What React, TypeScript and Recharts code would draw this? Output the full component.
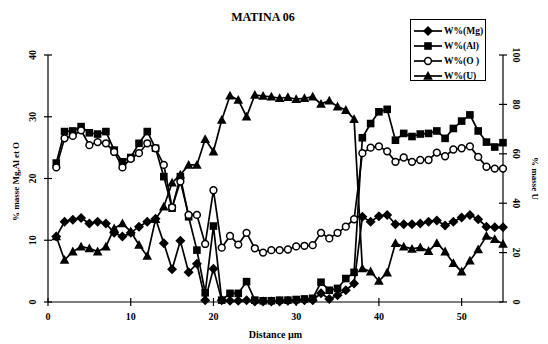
import React from 'react';
import { LineChart, Line, XAxis, YAxis, Legend } from 'recharts';

// distance along the profile (µm)
const distance = [
  1, 2, 3, 4, 5, 6, 7, 8, 9, 10, 11, 12, 13, 14, 15, 16, 17, 18, 19, 20,
  21, 22, 23, 24, 25, 26, 27, 28, 29, 30, 31, 32, 33, 34, 35, 36, 37, 38, 39, 40,
  41, 42, 43, 44, 45, 46, 47, 48, 49, 50, 51, 52, 53, 54, 55,
];

// weight % on the left axis
const mgValues = [
  10.6, 13.0, 13.3, 13.6, 12.7, 13.0, 12.7, 11.2, 10.6, 11.2, 12.2, 13.0, 13.5, 9.5, 5.3, 9.9, 4.8, 6.2, 0.3, 5.4,
  0.3, 0.2, 0.2, 0.3, 0.1, 0.1, 0.1, 0.1, 0.2, 0.2, 0.3, 0.3, 1.4, 0.5, 1.1, 1.9, 3.0, 13.8, 13.0, 13.9,
  14.1, 12.6, 12.6, 12.6, 12.7, 13.0, 13.2, 12.4, 13.0, 13.7, 14.1, 13.4, 12.2, 12.1, 12.1,
];
const alValues = [
  22.5, 27.6, 27.7, 28.4, 27.4, 27.2, 27.6, 24.6, 22.7, 23.4, 25.7, 27.6, 24.9, 20.3, 15.2, 20.3, 13.8, 8.4, 1.5, 12.3,
  0.3, 1.4, 1.4, 3.3, 0.3, 0.2, 0.2, 0.3, 0.3, 0.4, 0.5, 0.6, 3.2, 1.9, 2.2, 3.8, 4.8, 26.6, 28.9, 30.8,
  31.2, 26.2, 27.3, 26.8, 27.2, 27.3, 27.7, 26.5, 28.1, 29.3, 30.3, 27.7, 25.9, 25.1, 25.8,
];
const oValues = [
  21.8, 26.5, 26.9, 27.8, 25.4, 25.9, 25.7, 24.3, 21.8, 23.2, 24.1, 25.7, 24.9, 22.2, 15.3, 19.5, 14.1, 14.1, 9.4, 18.1,
  8.8, 10.7, 9.3, 11.2, 8.7, 8.0, 8.4, 8.4, 8.5, 9.0, 9.1, 9.2, 11.2, 10.3, 11.2, 12.2, 13.4, 24.1, 25.0, 25.2,
  24.4, 22.7, 23.4, 22.7, 23.0, 23.0, 24.2, 23.6, 24.7, 24.9, 25.2, 23.5, 21.9, 21.6, 21.6,
];

// weight % on the right axis
const uValues = [
  26.5, 17.0, 20.4, 22.4, 21.7, 20.4, 22.4, 29.8, 31.8, 28.5, 23.1, 18.6, 33.5, 38.6, 48.3, 51.5, 55.5, 55.5, 65.9, 60.9,
  73.7, 83.5, 81.8, 75.0, 83.8, 83.4, 83.1, 82.5, 82.9, 82.1, 82.5, 83.1, 80.2, 81.5, 79.1, 77.7, 74.0, 13.6, 12.3, 8.5,
  11.9, 23.8, 22.4, 21.5, 22.1, 20.6, 23.8, 20.4, 15.7, 12.3, 16.7, 21.3, 26.7, 25.4, 23.5,
];

const xTicks = [0, 10, 20, 30, 40, 50];
const leftTicks = [0, 10, 20, 30, 40];
const rightTicks = [0, 20, 40, 60, 80, 100];

const data = distance.map((d, i) => ({
  distance: d,
  mg: mgValues[i],
  al: alValues[i],
  o: oValues[i],
  u: uValues[i],
}));

const FONT = '"Liberation Serif", "Times New Roman", serif';

type MarkerKind = 'diamond' | 'square' | 'circle' | 'triangle';

const series: { key: string; name: string; kind: MarkerKind; axis: string }[] = [
  { key: 'mg', name: 'W%(Mg)', kind: 'diamond', axis: 'left' },
  { key: 'al', name: 'W%(Al)', kind: 'square', axis: 'left' },
  { key: 'o', name: 'W%(O )', kind: 'circle', axis: 'left' },
  { key: 'u', name: 'W%(U)', kind: 'triangle', axis: 'right' },
];

const Marker = ({ kind, cx, cy }: { kind: MarkerKind; cx: number; cy: number }) => {
  switch (kind) {
    case 'diamond':
      return <polygon points={`${cx},${cy - 5} ${cx + 5},${cy} ${cx},${cy + 5} ${cx - 5},${cy}`} fill="#000" />;
    case 'square':
      return <rect x={cx - 3.8} y={cy - 3.8} width={7.6} height={7.6} fill="#000" />;
    case 'circle':
      return <circle cx={cx} cy={cy} r={3.4} fill="#fff" stroke="#000" strokeWidth={1.5} />;
    default:
      return <polygon points={`${cx},${cy - 5} ${cx + 4.8},${cy + 3.8} ${cx - 4.8},${cy + 3.8}`} fill="#000" />;
  }
};

const makeDot = (kind: MarkerKind) => (props: any) => {
  const { cx, cy, index } = props;
  if (cx == null || cy == null) return <g key={index} />;
  return <Marker key={index} kind={kind} cx={cx} cy={cy} />;
};

const tickText = { fontFamily: FONT, fontSize: 10, fontWeight: 700, fill: '#000' };

const XTick = ({ x, y, payload }: any) => (
  <g>
    <line x1={x} x2={x} y1={y - 4} y2={y + 4} stroke="#000" strokeWidth={1.2} />
    <text x={x} y={y + 18} textAnchor="middle" {...tickText}>{payload.value}</text>
  </g>
);

const LeftTick = ({ x, y, payload }: any) => (
  <g>
    <line x1={x - 4} x2={x + 4} y1={y} y2={y} stroke="#000" strokeWidth={1.2} />
    <text
      x={x - 16}
      y={y}
      textAnchor="middle"
      dominantBaseline="central"
      transform={`rotate(-90, ${x - 16}, ${y})`}
      {...tickText}
    >
      {payload.value}
    </text>
  </g>
);

const RightTick = ({ x, y, payload }: any) => (
  <g>
    <line x1={x - 4} x2={x + 4} y1={y} y2={y} stroke="#000" strokeWidth={1.2} />
    <text
      x={x + 13}
      y={y}
      textAnchor="middle"
      dominantBaseline="central"
      transform={`rotate(90, ${x + 13}, ${y})`}
      {...tickText}
    >
      {payload.value}
    </text>
  </g>
);

const titleText = { fontFamily: FONT, fontSize: 9, fontWeight: 700, fill: '#000' };

const LegendBox = () => (
  <div
    style={{
      border: '1px solid #000',
      width: 76,
      height: 62,
      padding: '3px 0 0 2px',
      boxSizing: 'border-box',
      background: '#fff',
    }}
  >
    {series.map((s) => (
      <div key={s.key} style={{ display: 'flex', alignItems: 'center', height: 15 }}>
        <svg width={30} height={12}>
          <line x1={1} x2={29} y1={6} y2={6} stroke="#000" strokeWidth={1.7} />
          <Marker kind={s.kind} cx={15} cy={6} />
        </svg>
        <span style={{ fontFamily: FONT, fontSize: 9.5, fontWeight: 700, color: '#000', marginLeft: 1 }}>
          {s.name}
        </span>
      </div>
    ))}
  </div>
);

export default function App() {
  return (
    <div style={{ position: 'absolute', left: 0, top: 0, width: 548, height: 344, background: '#fff' }}>
      <div
        style={{
          position: 'absolute',
          left: 213,
          width: 100,
          top: 10,
          textAlign: 'center',
          fontFamily: FONT,
          fontSize: 12,
          fontWeight: 700,
        }}
      >
        MATINA 06
      </div>
      <LineChart width={548} height={344} data={data} margin={{ top: 55, right: 0, bottom: 2, left: 8 }}>
        <XAxis
          dataKey="distance"
          type="number"
          domain={[0, 55]}
          ticks={xTicks}
          height={40}
          tickSize={0}
          tickMargin={0}
          tickLine={false}
          axisLine={{ stroke: '#000', strokeWidth: 1.2 }}
          tick={<XTick />}
          label={({ viewBox }: any) => (
            <text x={viewBox.x + viewBox.width / 2} y={viewBox.y + 36} textAnchor="middle" {...titleText} fontSize={10}>
              Distance µm
            </text>
          )}
        />
        <YAxis
          yAxisId="left"
          orientation="left"
          domain={[0, 40]}
          ticks={leftTicks}
          width={40}
          tickSize={0}
          tickMargin={0}
          tickLine={false}
          axisLine={{ stroke: '#000', strokeWidth: 1.2 }}
          tick={<LeftTick />}
          label={({ viewBox }: any) => {
            const lx = viewBox.x + 8;
            const ly = viewBox.y + viewBox.height / 2 + 3;
            return (
              <text x={lx} y={ly} textAnchor="middle" dominantBaseline="central" transform={`rotate(-90, ${lx}, ${ly})`} {...titleText}>
                % masse Mg,Al et O
              </text>
            );
          }}
        />
        <YAxis
          yAxisId="right"
          orientation="right"
          domain={[0, 100]}
          ticks={rightTicks}
          width={45}
          tickSize={0}
          tickMargin={0}
          tickLine={false}
          axisLine={{ stroke: '#000', strokeWidth: 1.2 }}
          tick={<RightTick />}
          label={({ viewBox }: any) => {
            const lx = viewBox.x + 32;
            const ly = viewBox.y + viewBox.height / 2;
            return (
              <text x={lx} y={ly} textAnchor="middle" dominantBaseline="central" transform={`rotate(90, ${lx}, ${ly})`} {...titleText}>
                % masse U
              </text>
            );
          }}
        />
        <Legend
          layout="horizontal"
          verticalAlign="middle"
          align="center"
          content={() => <LegendBox />}
          wrapperStyle={{ position: 'absolute', left: 410, top: 19, width: 76, height: 62 }}
        />
        {series.map((s) => (
          <Line
            key={s.key}
            yAxisId={s.axis}
            dataKey={s.key}
            name={s.name}
            stroke="#000"
            strokeWidth={1.7}
            dot={makeDot(s.kind)}
            activeDot={false}
            isAnimationActive={false}
          />
        ))}
      </LineChart>
    </div>
  );
}
